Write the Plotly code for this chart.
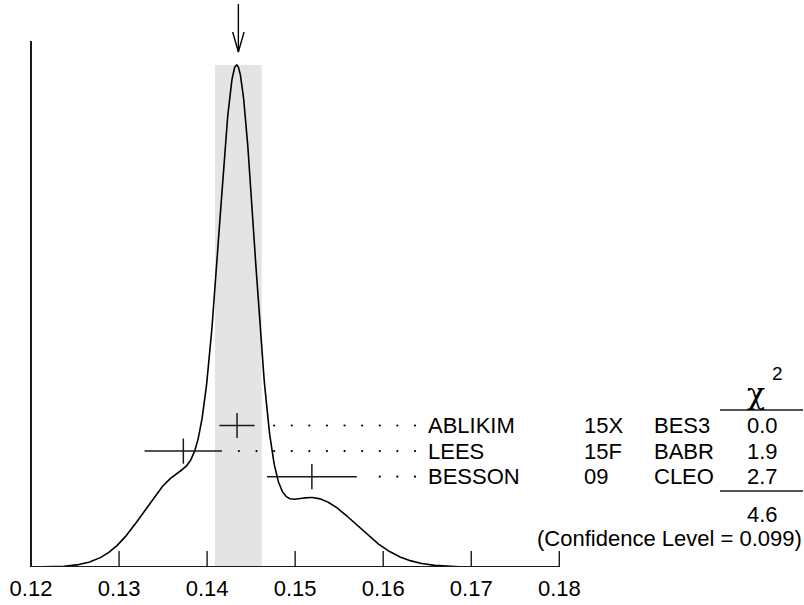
import numpy as np
import plotly.graph_objects as go

# ---- data ----
names = ["ABLIKIM", "LEES", "BESSON"]
years = ["15X", "15F", "09"]
experiments = ["BES3", "BABR", "CLEO"]
values = [0.1434, 0.1373, 0.1519]
errors = [0.0020, 0.0044, 0.0051]
chi2 = ["0.0", "1.9", "2.7"]
chi2_total = "4.6"
conf_level = "0.099"
average = 0.14355
average_err = 0.00265
tick_vals = [0.12, 0.13, 0.14, 0.15, 0.16, 0.17, 0.18]
tick_text = ["0.12", "0.13", "0.14", "0.15", "0.16", "0.17", "0.18"]

# ---- layout helpers (pixel geometry of the page, in window pixels) ----
W, H = 804, 605
PX_PER_UNIT = 8805.0
X_LEFT_PX = 31.0
BASE_PX = 567.0
B_MARGIN = H - int(BASE_PX)


def xd(px):
    return tick_vals[0] + (px - X_LEFT_PX) / PX_PER_UNIT


def yd(py):
    return BASE_PX - py


FONT = "Liberation Sans, Arial, Helvetica, sans-serif"
INK = "#1a1a1a"
FS = 22

# ideogram: sum of gaussians with area proportional to 1/sigma
xs = np.linspace(tick_vals[0], tick_vals[-1], 1501)
f = np.zeros_like(xs)
for v, e in zip(values, errors):
    f += (1.0 / e**2) * np.exp(-0.5 * ((xs - v) / e) ** 2)
PEAK = 502.0
ys = f / f.max() * PEAK

row0 = yd(425.5)
row_step = 25.6
rows = [row0 - i * row_step for i in range(len(names))]

fig = go.Figure()

# curve
fig.add_trace(go.Scatter(x=xs, y=ys, mode="lines",
                         line=dict(color="black", width=1.6),
                         hoverinfo="skip", showlegend=False))

# error bars with central tick
fig.add_trace(go.Scatter(
    x=values, y=rows, mode="markers",
    marker=dict(symbol="line-ns", size=18, line=dict(width=1.5, color=INK), color=INK),
    error_x=dict(type="data", array=errors, width=0, thickness=1.5, color=INK),
    showlegend=False, hoverinfo="skip"))

# dotted leaders
dot_end = xd(415)
dot_step = 0.002
dx, dy = [], []
for v, e, r in zip(values, errors, rows):
    k = 0
    while dot_end - k * dot_step > v + e + 0.0011:
        dx.append(dot_end - k * dot_step)
        dy.append(r)
        k += 1
fig.add_trace(go.Scatter(x=dx, y=dy, mode="markers",
                         marker=dict(size=2.2, color="black"),
                         showlegend=False, hoverinfo="skip"))

# arrow at the average
tip_y = yd(52)
tail_y = yd(4)
wing_y = yd(32)
wing_dx = 5.7 / PX_PER_UNIT
fig.add_trace(go.Scatter(
    x=[average, average, None, average - wing_dx, average, average + wing_dx],
    y=[tail_y, tip_y, None, wing_y, tip_y, wing_y],
    mode="lines", line=dict(color="black", width=1.4),
    showlegend=False, hoverinfo="skip"))

shapes = []
# shaded band for the average
shapes.append(dict(type="rect", xref="x", yref="y",
                   x0=average - average_err, x1=average + average_err,
                   y0=0, y1=PEAK, fillcolor="#e4e4e4", line=dict(width=0),
                   layer="below"))
# axes
shapes.append(dict(type="line", xref="x", yref="y", x0=tick_vals[0], x1=tick_vals[-1],
                   y0=0, y1=0, line=dict(color=INK, width=2)))
shapes.append(dict(type="line", xref="x", yref="y", x0=tick_vals[0], x1=tick_vals[0],
                   y0=0, y1=yd(41), line=dict(color=INK, width=2)))
for t in tick_vals[1:]:
    shapes.append(dict(type="line", xref="x", yref="y", x0=t, x1=t,
                       y0=0, y1=16, line=dict(color=INK, width=1.4)))
# chi2 table rules
shapes.append(dict(type="line", xref="x", yref="y", x0=xd(720), x1=xd(803),
                   y0=yd(410), y1=yd(410), line=dict(color=INK, width=1.4)))
shapes.append(dict(type="line", xref="x", yref="y", x0=xd(720), x1=xd(803),
                   y0=yd(491), y1=yd(491), line=dict(color=INK, width=1.4)))

ann = []


def txt(x, y, s, anchor="left", size=FS, family=FONT):
    ann.append(dict(x=x, y=y, xref="x", yref="y", text=s, showarrow=False,
                    xanchor=anchor, yanchor="middle", borderpad=0,
                    font=dict(family=family, size=size, color="black")))


for n, yr, ex, c, r in zip(names, years, experiments, chi2, rows):
    txt(xd(427), r, n)
    txt(xd(583), r, yr)
    txt(xd(653), r, ex)
    txt(xd(779), r, c, anchor="right")

txt(xd(746), yd(393), "χ", size=30, family="DejaVu Serif, serif")
txt(xd(771), yd(373), "2", size=19)
txt(xd(779), yd(514), chi2_total, anchor="right")
txt(xd(803), yd(538), "(Confidence Level = " + conf_level + ")", anchor="right")

fig.update_layout(
    width=W, height=H,
    margin=dict(l=0, r=0, t=0, b=B_MARGIN, pad=0),
    paper_bgcolor="white", plot_bgcolor="white",
    shapes=shapes, annotations=ann,
    font=dict(family=FONT, size=FS, color="black"),
    xaxis=dict(range=[xd(0), xd(W)], tickvals=tick_vals, ticktext=tick_text,
               ticks="", showgrid=False, zeroline=False, showline=False,
               tickfont=dict(size=FS, family=FONT, color="black"),
               ticklabelstandoff=6),
    yaxis=dict(range=[yd(H - B_MARGIN), yd(0)], visible=False,
               showgrid=False, zeroline=False),
)

# the page's default 8px body margin would shift the figure; remove it
fig.write_html("out.html", config={"displayModeBar": False},
               post_script="document.body.style.margin='0px';")
